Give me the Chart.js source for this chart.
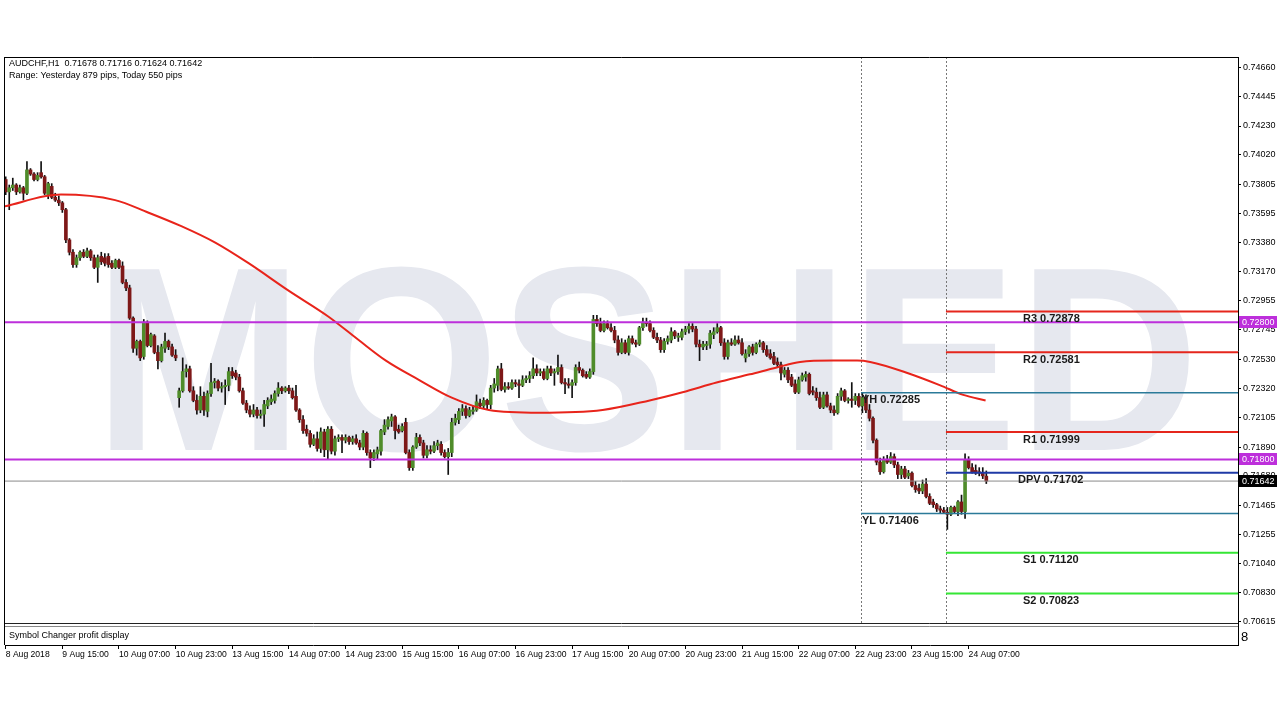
<!DOCTYPE html>
<html><head><meta charset="utf-8">
<script src="https://cdn.jsdelivr.net/npm/chart.js@4.4.1/dist/chart.umd.min.js"></script>
<style>html,body{margin:0;padding:0;background:#fff}canvas{display:block}</style>
</head><body>
<canvas id="c" width="1280" height="720" style="width:1280px;height:720px"></canvas>
<script>
const symbolName = 'AUDCHF,H1';
const watermark = 'MOSHED';
const subWindowName = 'Symbol Changer profit display';

const openP = [
.7384,.7375,.7378,.7380,.7375,.7378,.7374,.7391,.7388,.7384,
.7389,.7386,.7373,.7379,.7371,.7369,.7367,.7362,.7340,.7331,
.7322,.7327,.7331,.7328,.7332,.7327,.7320,.7328,.7327,.7328,
.7323,.7320,.7325,.7321,.7309,.7305,.7283,.7261,.7266,.7255,
.7280,.7263,.7270,.7258,.7252,.7261,.7266,.7262,.7256,.7225,
.7230,.7244,.7246,.7230,.7223,.7216,.7226,.7215,.7228,.7236,
.7237,.7232,.7233,.7234,.7244,.7243,.7240,.7230,.7221,.7216,
.7213,.7216,.7212,.7213,.7219,.7222,.7223,.7228,.7232,.7230,
.7232,.7230,.7226,.7216,.7209,.7202,.7199,.7191,.7195,.7188,
.7200,.7187,.7202,.7186,.7195,.7196,.7194,.7196,.7193,.7195,
.7192,.7189,.7199,.7185,.7181,.7184,.7186,.7200,.7204,.7208,
.7211,.7202,.7201,.7207,.7185,.7174,.7189,.7196,.7192,.7183,
.7187,.7186,.7190,.7191,.7185,.7182,.7185,.7207,.7209,.7215,
.7217,.7212,.7215,.7216,.7221,.7219,.7223,.7220,.7232,.7234,
.7246,.7231,.7233,.7232,.7236,.7235,.7234,.7238,.7239,.7241,
.7246,.7243,.7244,.7239,.7246,.7243,.7244,.7247,.7236,.7235,
.7234,.7236,.7247,.7245,.7242,.7240,.7244,.7282,.7279,.7274,
.7279,.7276,.7274,.7267,.7258,.7265,.7258,.7268,.7265,.7264,
.7276,.7280,.7279,.7274,.7269,.7267,.7260,.7266,.7267,.7273,
.7269,.7269,.7273,.7275,.7277,.7275,.7264,.7262,.7263,.7264,
.7271,.7273,.7276,.7265,.7255,.7265,.7264,.7267,.7265,.7254,
.7257,.7262,.7258,.7264,.7265,.7260,.7257,.7255,.7251,.7249,
.7242,.7245,.7240,.7235,.7229,.7238,.7240,.7242,.7230,.7229,
.7225,.7218,.7227,.7219,.7216,.7214,.7226,.7230,.7223,.7224,
.7223,.7226,.7219,.7225,.7216,.7210,.7194,.7178,.7171,.7180,
.7178,.7182,.7176,.7169,.7173,.7168,.7170,.7161,.7159,.7157,
.7162,.7153,.7149,.7147,.7144,.7143,.71415,.7140,.7145,.7142,
.7149,.7142,.7180,.7174,.7172,.7171,.7170,.71678];

const highP = [
.7386,.7380,.7385,.7381,.7380,.7379,.7397,.7392,.7389,.7389,
.7397,.7387,.7382,.7381,.7374,.7372,.7368,.7363,.7341,.7333,
.7329,.7332,.7333,.7334,.7333,.7329,.7329,.7331,.7330,.7330,
.7325,.7326,.7326,.7324,.7311,.7307,.7284,.7267,.7267,.7282,
.7281,.7272,.7271,.7263,.7264,.7272,.7267,.7264,.7260,.7232,
.7254,.7249,.7248,.7233,.7227,.7233,.7229,.7230,.7250,.7239,
.7238,.7236,.7238,.7247,.7247,.7245,.7242,.7232,.7223,.7219,
.7220,.7218,.7216,.7223,.7225,.7227,.7230,.7236,.7233,.7233,
.7234,.7232,.7234,.7217,.7212,.7205,.7201,.7198,.7200,.7203,
.7202,.7204,.7204,.7197,.7198,.7198,.7198,.7197,.7197,.7198,
.7194,.7201,.7200,.7187,.7187,.7189,.7202,.7209,.7211,.7213,
.7212,.7205,.7206,.7210,.7187,.7190,.7199,.7198,.7194,.7190,
.7190,.7193,.7194,.7193,.7187,.7188,.7210,.7213,.7217,.7220,
.7219,.7218,.7219,.7227,.7224,.7225,.7224,.7234,.7239,.7248,
.7250,.7236,.7236,.7238,.7238,.7238,.7241,.7241,.7244,.7254,
.7249,.7246,.7246,.7248,.7248,.7246,.7256,.7249,.7239,.7239,
.7238,.7249,.7251,.7246,.7244,.7246,.7285,.7285,.7283,.7281,
.7281,.7279,.7277,.7270,.7268,.7267,.7270,.7270,.7267,.7277,
.7283,.7283,.7281,.7276,.7272,.7269,.7268,.7270,.7276,.7274,
.7272,.7275,.7277,.7279,.7279,.7277,.7267,.7266,.7266,.7274,
.7276,.7279,.7277,.7268,.7267,.7268,.7270,.7270,.7268,.7260,
.7263,.7264,.7265,.7267,.7266,.7263,.7260,.7258,.7254,.7251,
.7247,.7247,.7242,.7238,.7240,.7243,.7244,.7243,.7233,.7232,
.7229,.7229,.7229,.7221,.7219,.7228,.7232,.7231,.7225,.7236,
.7228,.7228,.72285,.7227,.7220,.7211,.7195,.7181,.7182,.7183,
.7185,.7184,.7178,.7175,.7175,.7172,.7171,.7164,.7162,.7165,
.7166,.7155,.7151,.7148,.7146,.7145,.7145,.7146,.7146,.7150,
.7154,.7184,.7182,.7177,.7176,.7174,.7174,.71716];

const lowP = [
.7373,.7362,.7376,.7373,.7374,.7369,.7373,.7387,.7383,.7383,
.7385,.7373,.7370,.7370,.7368,.7365,.7360,.7338,.7329,.7320,
.7320,.7325,.7327,.7327,.7325,.7319,.7309,.7322,.7321,.7320,
.7319,.7319,.7319,.7308,.7303,.7282,.7258,.7256,.7252,.7253,
.7262,.7262,.7257,.7246,.7251,.7258,.7260,.7255,.7252,.7218,
.7229,.7240,.7229,.7222,.7213,.7214,.7212,.7211,.7226,.7232,
.7230,.7229,.7220,.7230,.7239,.7238,.7229,.7220,.7214,.7211,
.7211,.7210,.7210,.7204,.7217,.7220,.7221,.7226,.7228,.7229,
.7228,.7224,.7215,.7207,.7199,.7197,.7189,.7190,.7186,.7185,
.7182,.7180,.7184,.7183,.7193,.7185,.7192,.7191,.7191,.7191,
.7187,.7187,.7183,.7174,.7179,.7180,.7183,.7198,.7202,.7204,
.7195,.7199,.7200,.7184,.7172,.7172,.7188,.7190,.7181,.7181,
.7184,.7185,.7187,.7183,.7181,.7169,.7182,.7205,.7206,.7212,
.7210,.7211,.7213,.7215,.7217,.7217,.7217,.7217,.7229,.7230,
.7230,.7229,.7231,.7231,.7233,.7225,.7233,.7236,.7236,.7239,
.7241,.7241,.7238,.7238,.7241,.7234,.7242,.7235,.7228,.7232,
.7225,.7234,.7243,.7240,.7239,.7239,.7242,.7277,.7273,.7273,
.7275,.7273,.7265,.7256,.7257,.7257,.7256,.7264,.7262,.7263,
.7274,.7277,.7273,.7268,.7265,.7258,.7258,.7264,.7265,.7268,
.7266,.7267,.7271,.7272,.7273,.7262,.7252,.7260,.7260,.7261,
.7268,.7272,.7263,.7253,.7253,.7263,.7263,.7264,.7256,.7251,
.7255,.7256,.7257,.7262,.7258,.7255,.7253,.7249,.7247,.7238,
.7240,.7236,.7233,.7228,.7228,.7237,.7237,.7227,.7227,.7223,
.7217,.7217,.7218,.7214,.7212,.7213,.7223,.7222,.7221,.7218,
.7220,.7218,.7214,.7214,.7208,.7192,.7176,.7169,.7170,.7177,
.7177,.7174,.7166,.7166,.7166,.7166,.7160,.7156,.7155,.7155,
.7152,.7147,.7145,.7142,.7141,.71406,.7129,.7139,.7141,.7139,
.7140,.7137,.7173,.7170,.7169,.7168,.7166,.71624];

const closeP = [
.7375,.7378,.7380,.7375,.7378,.7374,.7391,.7388,.7384,.7387,
.7386,.7374,.7381,.7371,.7369,.7367,.7362,.7340,.7331,.7322,
.7327,.7331,.7328,.7332,.7327,.7320,.7327,.7324,.7323,.7322,
.7320,.7325,.7320,.7309,.7305,.7283,.7261,.7266,.7254,.7280,
.7263,.7271,.7258,.7252,.7262,.7266,.7262,.7256,.7254,.7230,
.7244,.7246,.7230,.7223,.7216,.7226,.7216,.7228,.7236,.7237,
.7232,.7233,.7234,.7244,.7241,.7240,.7230,.7221,.7216,.7213,
.7216,.7212,.7213,.7220,.7223,.7224,.7228,.7232,.7230,.7232,
.7230,.7225,.7216,.7209,.7201,.7199,.7191,.7195,.7188,.7200,
.7187,.7202,.7186,.7195,.7196,.7194,.7196,.7193,.7195,.7192,
.7189,.7199,.7185,.7181,.7185,.7187,.7201,.7205,.7209,.7211,
.7201,.7200,.7204,.7185,.7174,.7189,.7196,.7192,.7183,.7187,
.7186,.7190,.7192,.7185,.7182,.7185,.7207,.7210,.7215,.7217,
.7212,.7216,.7216,.7222,.7219,.7223,.7220,.7232,.7235,.7246,
.7231,.7233,.7232,.7236,.7235,.7234,.7238,.7239,.7241,.7246,
.7243,.7244,.7239,.7246,.7243,.7244,.7247,.7236,.7235,.7234,
.7236,.7247,.7245,.7241,.7240,.7244,.7282,.7279,.7274,.7279,
.7276,.7274,.7267,.7258,.7265,.7258,.7268,.7265,.7264,.7276,
.7280,.7279,.7274,.7269,.7267,.7260,.7266,.7268,.7273,.7270,
.7270,.7273,.7275,.7277,.7275,.7264,.7262,.7264,.7264,.7272,
.7273,.7276,.7265,.7255,.7265,.7264,.7267,.7265,.7257,.7257,
.7262,.7258,.7264,.7265,.7260,.7256,.7254,.7250,.7249,.7243,
.7245,.7238,.7234,.7229,.7238,.7241,.7242,.7228,.7229,.7225,
.7218,.7227,.7219,.7216,.7214,.7226,.7230,.7223,.7224,.7223,
.7226,.7219,.7225,.7216,.7210,.7194,.7178,.7171,.7180,.7178,
.7182,.7176,.7169,.7173,.7167,.7170,.7161,.7158,.7157,.7162,
.7153,.7148,.7147,.7144,.7143,.71415,.7140,.7145,.7142,.7149,
.7142,.7180,.7174,.7171,.7170,.7170,.7168,.71642];

// moving average (bar index, value)
const maIdx = [-1,15.6,30.9,40.2,49.6,59.2,68.6,79.9,91.2,99.7,107.4,116.7,126,136.5,150.7,168.6,181.9,191.2,200.8,210.2,217.8,224.4,233.7,240.5,244.2,254.7,264,270.5,276.8];
const maVal = [0.7364,0.7373,0.7369,0.7360,0.7350,0.7338,0.7323,0.7303,0.7284,0.7267,0.7252,0.7238,0.7225,0.7216,0.7214,0.7216,0.7223,0.7229,0.7236,0.7242,0.7247,0.7251,0.7252,0.7252,0.7251,0.7243,0.7234,0.7227,0.7223];

const levelValues = [0.72800, 0.71800];          // horizontal magenta levels
const yhylNames = ['YH', 'YL'];
const yhylValues = [0.72285, 0.71406];
const pivotNames = ['R3', 'R2', 'R1', 'DPV', 'S1', 'S2'];
const pivotValues = [0.72878, 0.72581, 0.71999, 0.71702, 0.71120, 0.70823];
const daySepIdx = [241.6, 265.6];                 // yesterday start, today start (bar units)

const yTickValues = [0.74660,0.74445,0.74230,0.74020,0.73805,0.73595,0.73380,0.73170,0.72955,0.72745,0.72530,0.72320,0.72105,0.71890,0.71680,0.71465,0.71255,0.71040,0.70830,0.70615];
const xTickIdx = [0,16,32,48,64,80,96,112,128,144,160,176,192,208,224,240,256,272];
const xTickLabels = ['8 Aug 2018','9 Aug 15:00','10 Aug 07:00','10 Aug 23:00','13 Aug 15:00','14 Aug 07:00','14 Aug 23:00','15 Aug 15:00','16 Aug 07:00','16 Aug 23:00','17 Aug 15:00','20 Aug 07:00','20 Aug 23:00','21 Aug 15:00','22 Aug 07:00','22 Aug 23:00','23 Aug 15:00','24 Aug 07:00'];

const xMin = -0.2, xMax = 348.1;
const yMin = 0.704473, yMax = 0.74733;

const FONT = '"Liberation Sans", Arial, sans-serif';
Chart.defaults.font.family = FONT;
Chart.defaults.color = '#000';

const n = closeP.length;
const bullCol = '#4f8c2a', bearCol = '#7e1818';
const bodyCols = closeP.map((c, i) => c >= openP[i] ? bullCol : bearCol);
const last = n - 1;
const curPrice = closeP[last];

function hline(v, x0, col, w, dash) {
  return { type: 'line', data: [{x: x0, y: v}, {x: xMax, y: v}], borderColor: col, borderWidth: w,
    borderDash: dash || [], pointRadius: 0, fill: false, order: 0, tension: 0 };
}
const pivotCols = ['#e5261c','#e5261c','#e5261c','#1f3aa6','#35e635','#35e635'];

const datasets = [
  { type: 'bar', data: closeP.map((c, i) => ({x: i, y: [lowP[i], highP[i]]})), backgroundColor: '#111',
    barThickness: 1, grouped: false, order: 4 },
  { type: 'bar', data: closeP.map((c, i) => ({x: i, y: [openP[i], c]})), backgroundColor: bodyCols,
    barThickness: 3, grouped: false, minBarLength: 1, order: 3 },
  { type: 'line', data: maIdx.map((v, i) => ({x: v, y: maVal[i]})), borderColor: '#e8241b', borderWidth: 2,
    pointRadius: 0, cubicInterpolationMode: 'monotone', fill: false, order: 2 },
  hline(curPrice, xMin, '#8a8a8a', 1),
  ...levelValues.map(v => hline(v, xMin, '#bd2fdb', 2)),
  ...yhylValues.map(v => hline(v, daySepIdx[0], '#2b7a99', 1.5)),
  ...pivotValues.map((v, i) => hline(v, daySepIdx[1], pivotCols[i], 2)),
];

const decor = {
  id: 'decor',
  beforeDatasetsDraw(chart) {
    const {ctx, chartArea: a, scales: {x}} = chart;
    const paneBottom = a.bottom - 22;
    ctx.save();
    ctx.beginPath(); ctx.rect(a.left, a.top, a.right - a.left, paneBottom - a.top); ctx.clip();
    ctx.font = 'bold 200px ' + FONT;
    const m = ctx.measureText(watermark);
    const w = m.actualBoundingBoxLeft + m.actualBoundingBoxRight;
    const h = m.actualBoundingBoxAscent;
    ctx.translate(110, 450);
    ctx.scale(1080 / w, 184 / h);
    ctx.fillStyle = '#e6e8ef';
    ctx.textAlign = 'left'; ctx.textBaseline = 'alphabetic';
    ctx.fillText(watermark, m.actualBoundingBoxLeft, 0);
    ctx.restore();
    ctx.save();
    ctx.strokeStyle = '#777'; ctx.lineWidth = 1; ctx.setLineDash([2, 2]);
    daySepIdx.forEach(v => {
      const px = Math.round(x.getPixelForValue(v)) + 0.5;
      ctx.beginPath(); ctx.moveTo(px, a.top); ctx.lineTo(px, paneBottom); ctx.stroke();
    });
    ctx.restore();
  },
  afterDatasetsDraw(chart) {
    const {ctx, chartArea: a, scales: {x, y}} = chart;
    ctx.save();
    ctx.font = 'bold 11px ' + FONT;
    ctx.fillStyle = '#1a1a1a'; ctx.textAlign = 'left'; ctx.textBaseline = 'top';
    const px0 = x.getPixelForValue(daySepIdx[1]);
    pivotNames.forEach((nm, i) => {
      const py = y.getPixelForValue(pivotValues[i]);
      ctx.fillText(nm + ' ' + pivotValues[i].toFixed(5), px0 + (nm === 'DPV' ? 72 : 77), py + 2);
    });
    const py0 = x.getPixelForValue(daySepIdx[0]);
    yhylNames.forEach((nm, i) => {
      const py = y.getPixelForValue(yhylValues[i]);
      ctx.fillText(nm + ' ' + yhylValues[i].toFixed(5), py0 + 1, py + 2);
    });
    ctx.restore();
  },
  afterDraw(chart) {
    const {ctx, chartArea: a, scales: {y}} = chart;
    ctx.save();
    // frame
    ctx.strokeStyle = '#000'; ctx.lineWidth = 1;
    ctx.beginPath();
    ctx.moveTo(a.left - 0.5, a.top + 0.5); ctx.lineTo(a.right, a.top + 0.5);
    ctx.moveTo(a.left - 0.5, a.top); ctx.lineTo(a.left - 0.5, a.bottom);
    ctx.stroke();
    // sub-window separator
    const pb = a.bottom - 22;
    ctx.fillStyle = '#fff'; ctx.fillRect(a.left, pb, a.right - a.left, 21);
    ctx.strokeStyle = '#222'; ctx.beginPath(); ctx.moveTo(a.left, pb + 0.5); ctx.lineTo(a.right, pb + 0.5); ctx.stroke();
    ctx.strokeStyle = '#888'; ctx.beginPath(); ctx.moveTo(a.left, pb + 3.5); ctx.lineTo(a.right, pb + 3.5); ctx.stroke();
    ctx.fillStyle = '#000'; ctx.font = '9px ' + FONT; ctx.textAlign = 'left'; ctx.textBaseline = 'middle';
    ctx.fillText(subWindowName, a.left + 4, pb + 13);
    ctx.font = '13px ' + FONT;
    ctx.fillText('8', a.right + 3, pb + 14);
    // header
    ctx.font = '9px ' + FONT;
    const hdr = symbolName + '  ' + [openP[last], highP[last], lowP[last], closeP[last]].map(v => v.toFixed(5)).join(' ');
    ctx.fillText(hdr, a.left + 4, a.top + 7);
    const yRange = Math.round((yhylValues[0] - yhylValues[1]) * 1e5);
    const tH = Math.max(...highP.slice(266)), tL = Math.min(...lowP.slice(266));
    const tRange = Math.round((tH - tL) * 1e5);
    ctx.fillText('Range: Yesterday ' + yRange + ' pips, Today ' + tRange + ' pips', a.left + 4, a.top + 19);
    // price tags
    const tag = (v, bg) => {
      const py = Math.round(y.getPixelForValue(v));
      ctx.fillStyle = bg; ctx.fillRect(a.right + 1, py - 6, 38, 12);
      ctx.fillStyle = '#fff'; ctx.font = '9px ' + FONT; ctx.textBaseline = 'middle';
      ctx.fillText(v.toFixed(5), a.right + 4, py + 0.5);
    };
    levelValues.forEach(v => tag(v, '#bd2fdb'));
    tag(curPrice, '#000');
    ctx.restore();
  }
};

new Chart(document.getElementById('c'), {
  type: 'bar',
  data: { datasets },
  options: {
    responsive: false, animation: false, devicePixelRatio: 1,
    layout: { padding: { left: 5, top: 57, right: 0, bottom: 55 } },
    plugins: { legend: { display: false }, tooltip: { enabled: false } },
    scales: {
      x: {
        type: 'linear', min: xMin, max: xMax, offset: false,
        afterBuildTicks: s => { s.ticks = xTickIdx.map(v => ({value: v})); },
        afterFit: s => { s.height = 20; },
        ticks: { autoSkip: false, maxRotation: 0, align: 'start', padding: 0, font: {size: 8.6}, color: '#000',
          callback: v => xTickLabels[xTickIdx.indexOf(v)] },
        grid: { drawOnChartArea: false, tickLength: 4, color: '#000', offset: false },
        border: { display: true, color: '#000' }
      },
      y: {
        position: 'right', min: yMin, max: yMax, beginAtZero: false,
        afterBuildTicks: s => { s.ticks = yTickValues.map(v => ({value: v})); },
        afterFit: s => { s.width = 42; },
        ticks: { autoSkip: false, padding: 2, font: {size: 9}, color: '#000', callback: v => v.toFixed(5) },
        grid: { drawOnChartArea: false, tickLength: 3, color: '#000' },
        border: { display: true, color: '#000' }
      }
    }
  },
  plugins: [decor]
});
</script>
</body></html>
